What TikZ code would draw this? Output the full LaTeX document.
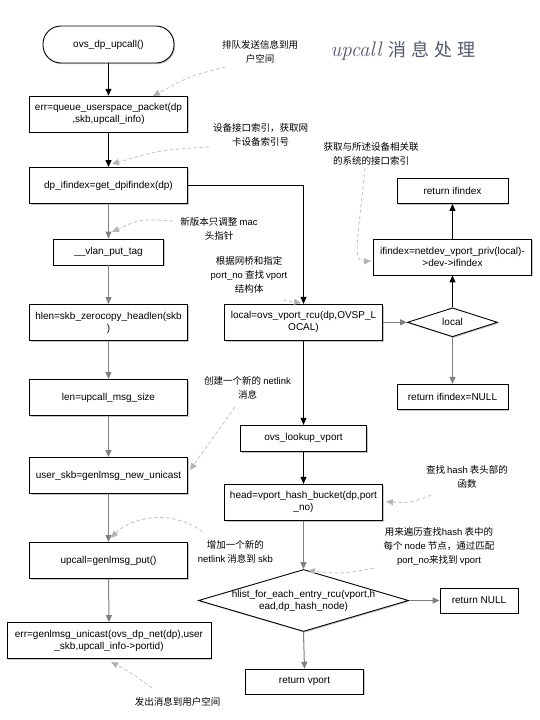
\documentclass[tikz,border=0pt]{standalone}
\usepackage{fontspec}
\newfontfamily\arial{Liberation Sans}
\newfontfamily\cjk{Noto Sans CJK SC}
\usetikzlibrary{arrows.meta,shapes.geometric,shadows}
\definecolor{arrgray}{HTML}{808080}
\definecolor{dashgray}{HTML}{C6C6C6}
\definecolor{dashtip}{HTML}{B4B4B4}
\definecolor{titlecol}{HTML}{545B6E}
\tikzset{
  shad/.style={drop shadow={shadow xshift=1.2pt,shadow yshift=-1.2pt,fill=black,opacity=0.22}},
  box/.style={draw=black,line width=0.9pt,fill=white,inner sep=1pt,align=center,
    font=\arial\fontsize{10}{12}\selectfont,shad},
  dia/.style={diamond,draw=black,line width=0.9pt,fill=white,inner sep=0pt,
    font=\arial\fontsize{10}{12}\selectfont,shad},
  note/.style={align=center,inner sep=0pt,font=\cjk\fontsize{9.5}{14}\selectfont},
  blk/.style={draw=black,line width=1pt,-{Triangle[length=7pt,width=6pt]}},
  gry/.style={draw=arrgray,line width=1pt,-{Triangle[length=7pt,width=6pt,fill=arrgray]}},
  dsh/.style={draw=dashgray,line width=0.9pt,dash pattern=on 3.5pt off 2.5pt,
    -{Triangle[length=7pt,width=6pt,fill=dashtip,color=dashtip]}},
}
\begin{document}
\begin{tikzpicture}[x=1pt,y=-1pt]
\useasboundingbox[fill=white] (0,0) rectangle (540,720);

% title
\node[text=titlecol,inner sep=0pt] (title) at (403,51)
  {{\itshape\fontsize{21}{21}\selectfont upcall}\hspace{7pt}{\cjk\fontsize{18}{18}\selectfont 消\hspace{5pt}息\hspace{5pt}处\hspace{5pt}理}};

% left column
\node[box,rounded corners=18pt,minimum width=131pt,minimum height=37pt] (start) at (108.5,44.5) {ovs\_dp\_upcall()};
\node[box,minimum width=158pt,minimum height=36pt] (err1) at (108.5,114.2) {err=queue\_userspace\_packet(dp\\,skb,upcall\_info)};
\node[box,minimum width=158pt,minimum height=36pt] (dpif) at (108.5,185.5) {dp\_ifindex=get\_dpifindex(dp)};
\node[box,minimum width=110pt,minimum height=26pt] (vlan) at (108.5,252) {\_\_vlan\_put\_tag};
\node[box,minimum width=158pt,minimum height=36pt] (hlen) at (108.5,322.5) {hlen=skb\_zerocopy\_headlen(skb\\)};
\node[box,minimum width=158pt,minimum height=36pt] (len) at (108.5,397.5) {len=upcall\_msg\_size};
\node[box,minimum width=158pt,minimum height=36pt] (uskb) at (108.5,475.5) {user\_skb=genlmsg\_new\_unicast};
\node[box,minimum width=158pt,minimum height=36pt] (upc) at (108.5,560.5) {upcall=genlmsg\_put()};
\node[box,minimum width=204pt,minimum height=36pt] (err2) at (109,640.5) {err=genlmsg\_unicast(ovs\_dp\_net(dp),user\\\_skb,upcall\_info->portid)};

% middle column
\node[box,minimum width=158pt,minimum height=36pt] (local) at (303.5,322.3) {local=ovs\_vport\_rcu(dp,OVSP\_L\\OCAL)};
\node[box,minimum width=126pt,minimum height=26pt] (lookup) at (303.5,438.3) {ovs\_lookup\_vport};
\node[box,minimum width=158pt,minimum height=36pt] (head) at (303.5,502.3) {head=vport\_hash\_bucket(dp,port\\\_no)};
\node[dia,minimum width=210pt,minimum height=62pt] (hlistd) at (303.5,600.5) {};
\node[align=center,inner sep=0pt,font=\arial\fontsize{10}{12}\selectfont] (hlist) at (303.5,600.5) {hlist\_for\_each\_entry\_rcu(vport,h\\ead,dp\_hash\_node)};
\node[box,minimum width=118pt,minimum height=25pt] (rvport) at (304.5,681.7) {return vport};
\node[box,minimum width=78pt,minimum height=25pt] (rnull) at (479,600.5) {return NULL};

% right column
\node[box,minimum width=111pt,minimum height=25pt] (retif) at (452.5,191) {return ifindex};
\node[box,minimum width=158pt,minimum height=36pt] (ifidx) at (452.5,257) {ifindex=netdev\_vport\_priv(local)-\\>dev->ifindex};
\node[dia,minimum width=90pt,minimum height=29pt] (ldia) at (452.5,322.3) {local};
\node[box,minimum width=111pt,minimum height=25pt] (rnullif) at (452.5,396.8) {return ifindex=NULL};

% notes
\node[note] (n1) at (260,51.7) {排队发送信息到用\\户空间};
\node[note] (n2) at (260.5,134.7) {设备接口索引，获取网\\卡设备索引号};
\node[note] (n3) at (371,154.2) {获取与所述设备相关联\\的系统的接口索引};
\node[note] (n4) at (219,228.8) {新版本只调整 {\arial mac}\\头指针};
\node[note] (n5) at (249,274.8) {根据网桥和指定\\{\arial port\_no} 查找 {\arial vport}\\结构体};
\node[note] (n6) at (247.5,387.8) {创建一个新的 {\arial netlink}\\消息};
\node[note] (n7) at (467,477) {查找 {\arial hash} 表头部的\\函数};
\node[note] (n8) at (235.4,552.2) {增加一个新的\\{\arial netlink} 消息到 {\arial skb}};
\node[note] (n9) at (439,546.7) {用来遍历查找{\arial hash} 表中的\\每个 {\arial node} 节点，通过匹配\\{\arial port\_no}来找到 {\arial vport}};
\node[note] (n10) at (177.6,702.3) {发出消息到用户空间};

% main connectors
\draw[blk] (start.south) -- (err1.north);
\draw[blk] (err1.south) -- (dpif.north);
\draw[gry] (dpif.south) -- (vlan.north);
\draw[gry] (vlan.south) -- (hlen.north);
\draw[gry] (hlen.south) -- (len.north);
\draw[gry] (len.south) -- (uskb.north);
\draw[gry] (uskb.south) -- (upc.north);
\draw[gry] (upc.south) -- (err2.north);
\draw[blk] (dpif.east) -| (local.north);
\draw[gry] (local.east) -- (ldia.west);
\draw[blk] (ldia.north) -- (ifidx.south);
\draw[blk] (ifidx.north) -- (retif.south);
\draw[gry] (ldia.south) -- (rnullif.north);
\draw[blk] (local.south) -- (lookup.north);
\draw[blk] (lookup.south) -- (head.north);
\draw[gry] (head.south) -- (hlistd.north);
\draw[gry] (hlistd.east) -- (rnull.west);
\draw[gry] (hlistd.south) -- (rvport.north);

% dashed annotation connectors
\coordinate (a1) at (225,67);   \coordinate (b1) at (153,96);
\coordinate (a2) at (209,147);  \coordinate (b2) at (112,164);
\coordinate (a3) at (173,221);  \coordinate (b3) at (112,232);
\coordinate (a4) at (365,168);  \coordinate (b4) at (371,261);
\coordinate (a5) at (283,300);  \coordinate (b5) at (301,303);
\coordinate (a6) at (235,407);  \coordinate (b6) at (190,470);
\coordinate (a7) at (431,495);  \coordinate (b7) at (386,501.7);
\coordinate (a8) at (202.5,531.7); \coordinate (b8) at (111,538);
\coordinate (a9) at (373.8,568.3); \coordinate (b9) at (308,570.5);
\coordinate (a10) at (152,688); \coordinate (b10) at (111,662);
\draw[dsh] (a1) .. controls (190,76) .. (b1);
\draw[dsh] (a2) .. controls (160,150) .. (b2);
\draw[dsh] (a3) .. controls (140,219) .. (b3);
\draw[dsh] (a4) .. controls (358,240) and (352,262) .. (b4);
\draw[dsh] (a5) -- (b5);
\draw[dsh] (a6) .. controls (215,435) .. (b6);
\draw[dsh] (a7) .. controls (410,503) .. (b7);
\draw[dsh] (a8) .. controls (170,508) and (130,518) .. (b8);
\draw[dsh] (a9) .. controls (340,574) .. (b9);
\draw[dsh] (a10) .. controls (130,672) .. (b10);
\end{tikzpicture}
\end{document}
